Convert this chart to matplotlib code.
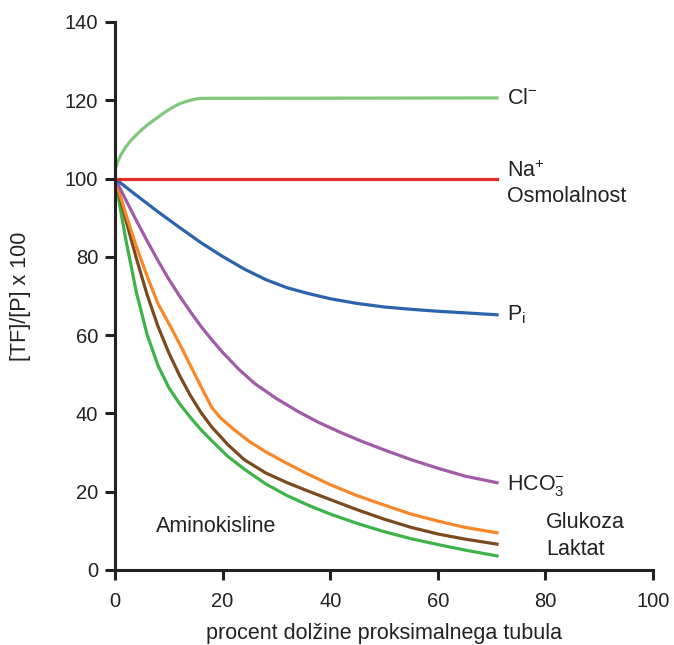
import matplotlib.pyplot as plt

plt.rcParams['font.family'] = ['Liberation Sans', 'DejaVu Sans']
plt.rcParams['mathtext.fontset'] = 'custom'
plt.rcParams['mathtext.rm'] = 'Liberation Sans'
plt.rcParams['mathtext.it'] = 'Liberation Sans'

# podatki odčitani s slike (x = % dolžine proksimalnega tubula)
cl_x = [0, 0.5, 1, 2, 3, 4, 5, 6, 7, 8, 9, 10, 11, 12, 13, 14, 15, 16, 71]
cl_y = [102, 104.3, 105.8, 108.1, 109.8, 111.2, 112.5, 113.7, 114.7, 115.7, 116.7,
        117.6, 118.4, 119.1, 119.6, 120, 120.3, 120.5, 120.6]

na_x = [0, 71]
na_y = [100, 100]

pi_x = [0, 4, 8, 12, 16, 20, 24, 28, 32, 36, 40, 45, 50, 55, 60, 65, 71]
pi_y = [100, 95.7, 91.5, 87.5, 83.6, 80.1, 76.9, 74.2, 72.1, 70.6, 69.3, 68.1, 67.2, 66.6,
        66.1, 65.7, 65.2]

hco3_x = [0, 2, 4, 6, 8, 10, 12, 14, 16, 18, 20, 23, 26, 30, 34, 38, 42, 46, 50, 55, 60, 65, 71]
hco3_y = [100, 94.6, 89.2, 84, 79, 74.3, 70, 66, 62.2, 58.8, 55.6, 51.3, 47.6, 43.8, 40.5,
          37.6, 35.1, 32.8, 30.7, 28.2, 26, 24, 22.3]

glu_x = [0, 2, 4, 6, 8, 10, 12, 14, 16, 18, 19.5, 22, 25, 28, 32, 36, 40, 45, 50, 55, 60, 65, 71]
glu_y = [100, 91, 82.5, 75, 68, 63, 57.8, 52.3, 46.8, 41.5, 39, 36, 32.8, 30.2, 27.2, 24.4,
         21.8, 19, 16.6, 14.3, 12.5, 10.9, 9.5]

lak_x = [0, 2, 4, 6, 8, 10, 12, 14, 16, 18, 21, 24, 28, 32, 36, 40, 45, 50, 55, 60, 65, 71]
lak_y = [100, 89.5, 79.5, 70.2, 62.2, 55.5, 49.7, 44.6, 40.2, 36.5, 32, 28.2, 24.8, 22.3, 20.1,
         18, 15.4, 13, 10.9, 9.2, 7.9, 6.6]

ami_x = [0, 2, 4, 6, 8, 10, 12, 14, 16, 18, 21, 24, 28, 32, 36, 40, 45, 50, 55, 60, 65, 71]
ami_y = [100, 84.5, 70.8, 60, 52.2, 46.6, 42.5, 39, 35.8, 33, 29, 25.8, 22, 19, 16.5, 14.3,
         11.9, 9.8, 8, 6.5, 5.1, 3.6]

fig = plt.figure(figsize=(6.74, 6.45), dpi=100)
ax = fig.add_axes([0.1706, 0.1163, 0.7983, 0.8496])

lw = 2.3
ax.plot(cl_x, cl_y, color='#80c87c', lw=lw)
ax.plot(ami_x, ami_y, color='#3db349', lw=lw)
ax.plot(lak_x, lak_y, color='#7b4a1f', lw=lw)
ax.plot(glu_x, glu_y, color='#f7882a', lw=lw)
ax.plot(hco3_x, hco3_y, color='#a25ba8', lw=lw)
ax.plot(pi_x, pi_y, color='#2b64ad', lw=lw)
ax.plot(na_x, na_y, color='#e32d2d', lw=lw)

# oznake krivulj
fs = 15.5
tc = '#222222'
ax.text(72.9, 120.5, r'Cl$^{\mathregular{-}}$', fontsize=fs, va='center', color=tc)
ax.text(72.9, 100.3, r'Na$^{+}$', fontsize=fs, va='baseline', color=tc)
ax.text(72.9, 94.0, 'Osmolalnost', fontsize=fs, va='baseline', color=tc)
ax.text(72.9, 65.2, r'P$_{\mathregular{i}}$', fontsize=fs, va='center', color=tc)
ax.text(72.9, 21.7, r'HCO$_{3}^{\mathregular{-}}$', fontsize=fs, va='center', color=tc)
ax.text(80.1, 12.1, 'Glukoza', fontsize=fs, va='center', color=tc)
ax.text(80.1, 5.3, 'Laktat', fontsize=fs, va='center', color=tc)
ax.text(7.7, 11.1, 'Aminokisline', fontsize=fs, va='center', color=tc)

ax.set_xlim(0, 100)
ax.set_ylim(0, 140)
ax.set_xticks(range(0, 101, 20))
ax.set_yticks(range(0, 141, 20))
ax.spines['top'].set_visible(False)
ax.spines['right'].set_visible(False)
for s in ['left', 'bottom']:
    ax.spines[s].set_linewidth(2.2)
    ax.spines[s].set_color(tc)
ax.tick_params(width=2.2, length=7, color=tc, labelsize=14.5, labelcolor=tc)
ax.tick_params(axis='x', pad=9)
ax.tick_params(axis='y', pad=5)

ax.set_xlabel('procent dolžine proksimalnega tubula', fontsize=15.5, color=tc, va='center')
ax.xaxis.set_label_coords(0.5, -0.115)
ax.set_ylabel('[TF]/[P] x 100', fontsize=15.5, color=tc, va='center')
ax.yaxis.set_label_coords(-0.175, 0.5)

plt.savefig('out.png', dpi=100)
